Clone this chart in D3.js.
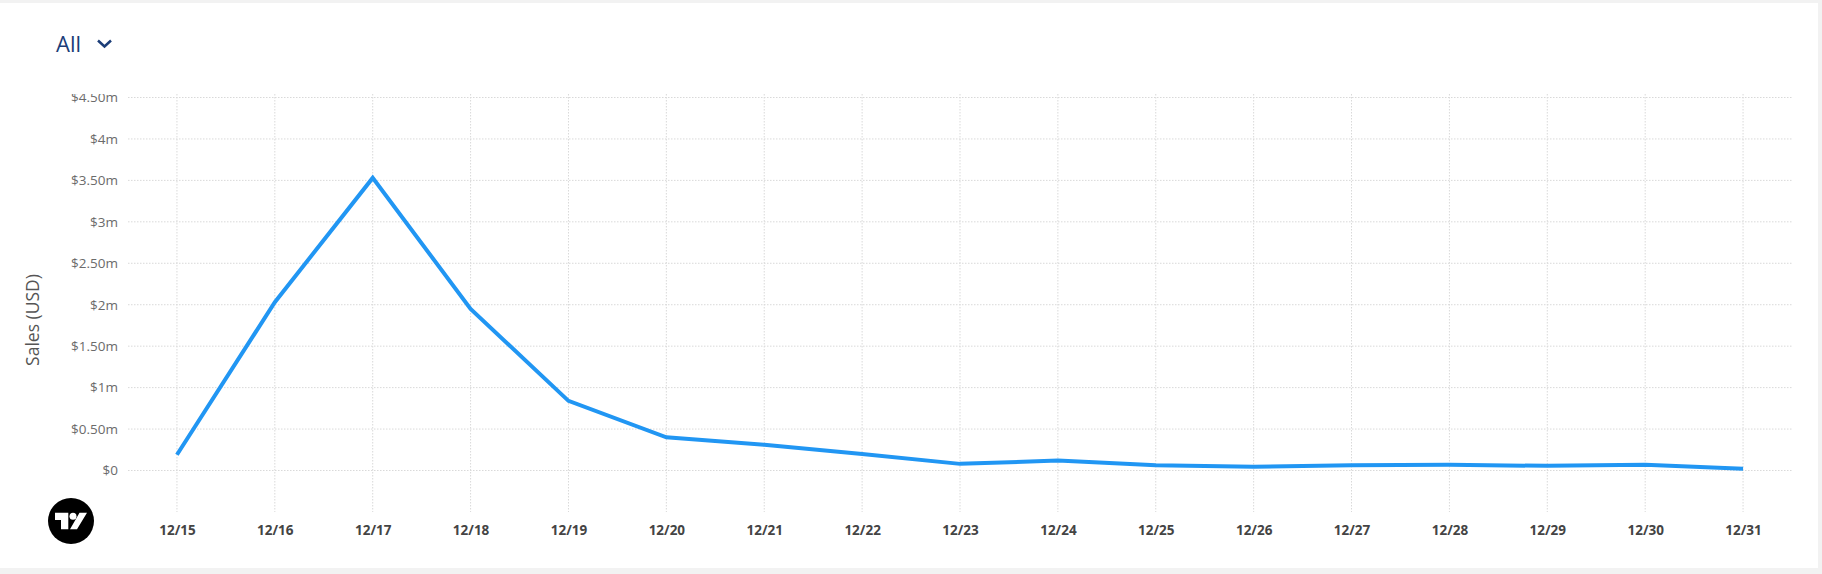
<!DOCTYPE html>
<html>
<head>
<meta charset="utf-8">
<script src="https://cdn.jsdelivr.net/npm/d3@7"></script>
<style>
  html, body { margin: 0; padding: 0; background: #f2f2f2; }
  #card { position: absolute; left: 0; top: 3px; width: 1818px; height: 565px; background: #fff; }
  svg { position: absolute; left: 0; top: 0; }
  text { font-family: "Open Sans", sans-serif; }
</style>
</head>
<body>
<div id="card"></div>
<svg id="chart" width="1822" height="574"></svg>
<script>
// dates on the x axis
var days = ["12/15", "12/16", "12/17", "12/18", "12/19", "12/20", "12/21", "12/22", "12/23",
            "12/24", "12/25", "12/26", "12/27", "12/28", "12/29", "12/30", "12/31"];
// daily sales, USD
var sales = [190000, 2030000, 3530000, 1950000, 840000, 400000, 310000, 200000, 80000,
             120000, 62000, 45000, 62000, 68000, 56000, 70000, 20000];
// y tick values
var yTicks = [0, 500000, 1000000, 1500000, 2000000, 2500000, 3000000, 3500000, 4000000, 4500000];

var svg = d3.select("#chart");

// plot box (window.top is read-only, so no "top" name here)
var plotLeft = 128, plotRight = 1792, plotTop = 97.5, plotBottom = 470.5,
    gridBottom = 512, gridTop = 94;

var x = d3.scalePoint()
    .domain(days)
    .range([plotLeft, plotRight])
    .padding(0.5);

var y = d3.scaleLinear()
    .domain([0, 4500000])
    .range([plotBottom, plotTop]);

function fmt(v) {
  var m = v / 1e6;
  if (m === 0) return "$0";
  return "$" + (Number.isInteger(m) ? m : m.toFixed(2)) + "m";
}

// clip so the top label gets cut like the original
svg.append("defs").append("clipPath").attr("id", "clip")
  .append("rect").attr("x", 0).attr("y", gridTop).attr("width", 1822).attr("height", 574);

// horizontal grid
svg.append("g").selectAll("line")
    .data(yTicks)
  .enter().append("line")
    .attr("x1", plotLeft).attr("x2", plotRight)
    .attr("y1", function(d) { return y(d); })
    .attr("y2", function(d) { return y(d); })
    .attr("stroke", "#d9d9d9")
    .attr("stroke-dasharray", "1.5,1.5");

// vertical grid
svg.append("g").selectAll("line")
    .data(days)
  .enter().append("line")
    .attr("x1", function(d) { return x(d); })
    .attr("x2", function(d) { return x(d); })
    .attr("y1", gridTop).attr("y2", gridBottom)
    .attr("stroke", "#d9d9d9")
    .attr("stroke-dasharray", "1.5,1.5");

// y axis
var yAxis = svg.append("g")
    .attr("clip-path", "url(#clip)")
    .append("g")
    .attr("transform", "translate(" + plotLeft + ",0)")
    .call(d3.axisLeft(y).tickValues(yTicks).tickFormat(fmt).tickSize(0).tickPadding(10));
yAxis.select(".domain").remove();
yAxis.selectAll("text")
    .style("font-family", "'Open Sans', sans-serif")
    .style("font-size", "13.5px")
    .attr("fill", "#6b6b6b");

// x axis
var xAxis = svg.append("g")
    .attr("transform", "translate(0," + gridBottom + ")")
    .call(d3.axisBottom(x).tickSize(0).tickPadding(13));
xAxis.select(".domain").remove();
xAxis.selectAll("text")
    .style("font-family", "'Open Sans', sans-serif")
    .style("font-size", "13.5px")
    .style("font-weight", "bold")
    .attr("fill", "#444");

// y title
svg.append("text")
    .attr("transform", "translate(39,320) rotate(-90)")
    .attr("text-anchor", "middle")
    .style("font-size", "17.5px")
    .attr("fill", "#555")
    .text("Sales (USD)");

// the line
var line = d3.line()
    .x(function(d, i) { return x(days[i]); })
    .y(function(d) { return y(d); });

svg.append("path")
    .datum(sales)
    .attr("fill", "none")
    .attr("stroke", "#2196f3")
    .attr("stroke-width", 4)
    .attr("d", line);

// "All" dropdown
svg.append("text")
    .attr("x", 56).attr("y", 52)
    .style("font-size", "22px")
    .attr("fill", "#1b3d78")
    .text("All");
svg.append("path")
    .attr("d", "M98,40.5 L104.5,46.5 L111,40.5")
    .attr("fill", "none")
    .attr("stroke", "#1b3d78")
    .attr("stroke-width", 2.5);

// logo
var logo = svg.append("g").attr("transform", "translate(71,521)");
logo.append("circle").attr("r", 23).attr("fill", "#000");
logo.append("path")
    .attr("d", "M-16,-8.3 L-2.7,-8.3 L-2.7,8.3 L-10,8.3 L-10,-1 L-16,-1 Z M8.5,-8.3 L16,-8.3 L6,8.3 L-1,8.3 Z")
    .attr("fill", "#fff");
logo.append("circle").attr("cx", 2).attr("cy", -4.7).attr("r", 3.5).attr("fill", "#fff");
</script>
</body>
</html>
